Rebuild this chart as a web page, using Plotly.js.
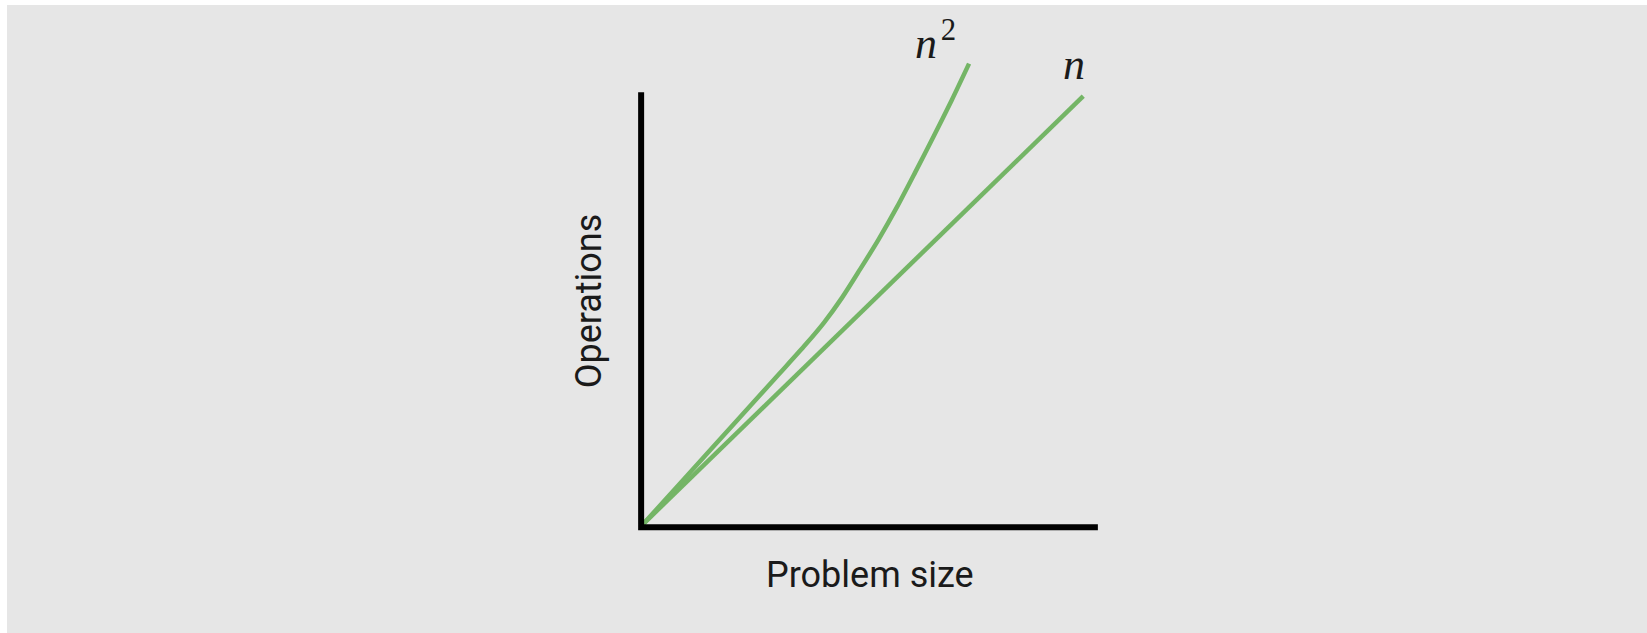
<!DOCTYPE html>
<html>
<head>
<meta charset="utf-8">
<script src="https://cdn.plot.ly/plotly-3.0.1.min.js"></script>
<style>
  html, body { margin: 0; padding: 0; background: #ffffff; }
  #plot { position: absolute; left: 7px; top: 5px; width: 1640px; height: 628px; }
</style>
</head>
<body>
<div id="plot"></div>
<script>
// Problem size vs operations (schematic)
let linearX = [0.05, 9.68];
let linearY = [0.08, 9.91];

let quadX = [0.05, 1.0, 2.0, 3.0, 3.6, 4.0, 4.4, 4.8, 5.2, 5.6, 6.0, 6.4, 6.8, 7.18];
let quadY = [0.08, 1.18, 2.34, 3.50, 4.20, 4.70, 5.28, 5.94, 6.62, 7.36, 8.16, 8.98, 9.82, 10.66];

let axisMax = 10;  // end of the drawn axes
let green = '#74b566';

let traceN = {
    x: linearX,
    y: linearY,
    mode: 'lines',
    name: 'n',
    line: {color: green, width: 4.5},
    hoverinfo: 'skip'
};

let traceN2 = {
    x: quadX,
    y: quadY,
    mode: 'lines',
    name: 'n^2',
    line: {color: green, width: 4.5, shape: 'spline', smoothing: 0.8},
    hoverinfo: 'skip'
};

let labelFont = {family: 'Liberation Serif', size: 44, color: '#1a1a1a'};
let axisFont = {family: 'Roboto', size: 36, color: '#1a1a1a'};

let hidden = {
    showgrid: false, zeroline: false, showline: false,
    showticklabels: false, ticks: '', fixedrange: true
};

let layout = {
    width: 1640,
    height: 628,
    margin: {l: 624.86, r: 539.9, t: 8.7, b: 97.3},
    paper_bgcolor: '#e6e6e6',
    plot_bgcolor: '#e6e6e6',
    showlegend: false,
    xaxis: Object.assign({range: [-0.2, 10.2]}, hidden),
    yaxis: Object.assign({range: [-0.2, 11.8]}, hidden),
    shapes: [{
        type: 'path',
        xref: 'x', yref: 'y',
        path: 'M 0,' + axisMax + ' L 0,0 L ' + axisMax + ',0',
        line: {color: '#000000', width: 6}
    }],
    annotations: [
        {x: 9.47, y: 10.64, xref: 'x', yref: 'y', text: '<i>n</i>',
         showarrow: false, font: labelFont, xanchor: 'center', yanchor: 'middle'},
        {x: 6.45, y: 11.2, xref: 'x', yref: 'y',
         text: '<i>n</i>\u200a<sup>2</sup>',
         showarrow: false, font: labelFont, xanchor: 'center', yanchor: 'middle'},
        {x: 0.5, y: -0.075, xref: 'paper', yref: 'paper', text: 'Problem size',
         showarrow: false, font: axisFont, xanchor: 'center', yanchor: 'middle'},
        {x: -0.09, y: 0.45, xref: 'paper', yref: 'paper', text: 'Operations',
         textangle: -90, showarrow: false, font: axisFont, xanchor: 'center', yanchor: 'middle'}
    ]
};

Plotly.newPlot('plot', [traceN, traceN2], layout, {staticPlot: true, displayModeBar: false});
</script>
</body>
</html>
